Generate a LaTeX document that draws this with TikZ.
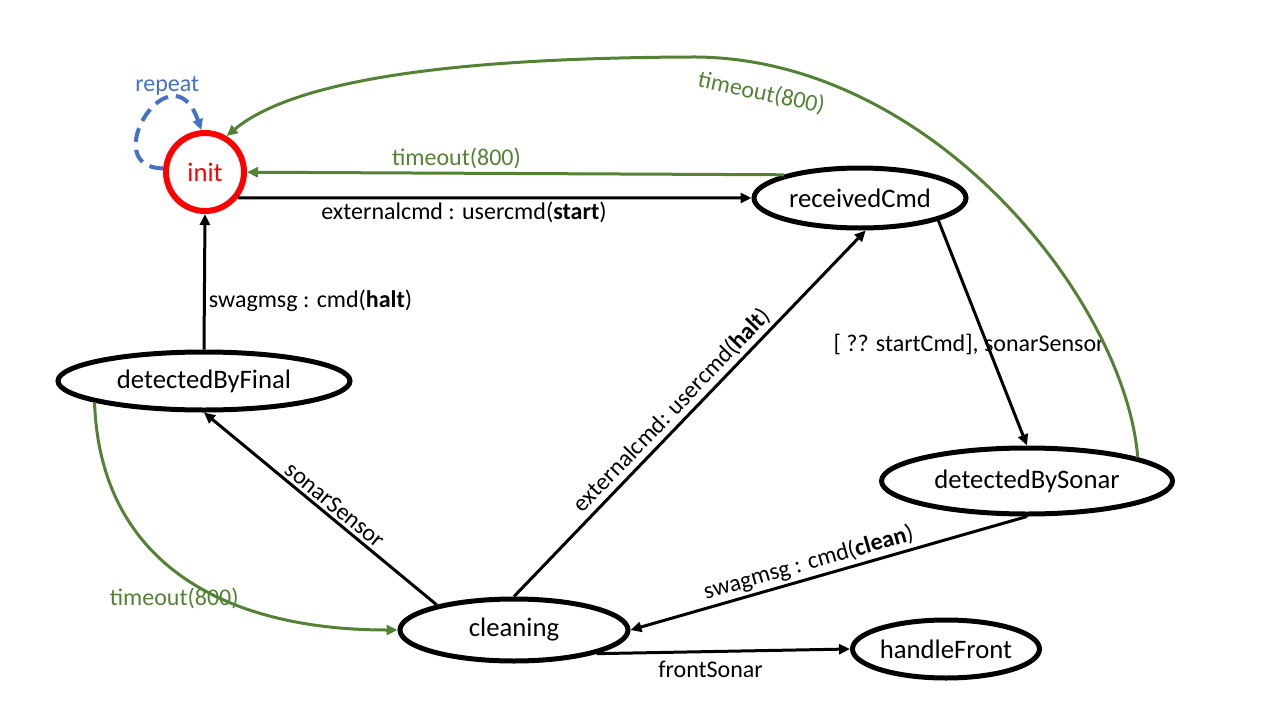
\documentclass[tikz,border=0pt]{standalone}
\usepackage{fontspec}
\setmainfont{Carlito}
\usetikzlibrary{arrows.meta, positioning, shapes.geometric}
\definecolor{tgreen}{HTML}{548235}
\definecolor{tblue}{HTML}{4472C4}

\begin{document}
\begin{tikzpicture}[x=1pt, y=-1pt, >={Triangle[length=11pt, width=10pt]}]
			\tikzstyle{state} = [draw=black, line width=5pt, ellipse, inner sep=0pt, font=\fontsize{26.7}{30}\selectfont]
			\tikzstyle{trans} = [line width=3pt, black]
			\tikzstyle{tmo} = [line width=3pt, tgreen]
			\tikzstyle{lbl} = [font=\fontsize{24}{28}\selectfont, inner sep=3pt]
			
			\useasboundingbox (0,0) rectangle (1280,720);
			
			\node[circle, draw=red, line width=6pt, text=red, minimum size=78pt, inner sep=0pt, font=\fontsize{26.7}{30}\selectfont] at (205,172) (init) {init};
			\node[state, minimum width=212pt, minimum height=60pt] at (860,198) (recv) {receivedCmd};
			\node[state, minimum width=292pt, minimum height=58pt] at (204,381) (dfinal) {detectedByFinal};
			\node[state, minimum width=291pt, minimum height=66pt] at (1027,481) (dsonar) {detectedBySonar};
			\node[state, minimum width=228pt, minimum height=62pt] at (514,630) (clean) {cleaning};
			\node[state, minimum width=185pt, minimum height=58pt] at (946,649) (front) {handleFront};
			
			\path[->, trans]
			(init.-38)		edge	node[lbl, below, pos=0.44] {externalcmd : usercmd(\textbf{start})}	(recv.west)
			(dfinal.north)	edge	node[lbl, right, pos=0.36] {swagmsg : cmd(\textbf{halt})}	(init.south)
			(recv.-16)		edge	node[lbl, pos=0.55, xshift=-18pt] {[ ?? startCmd], sonarSensor}	(dsonar.north)
			(clean.north)	edge	node[lbl, sloped, above, pos=0.48] {externalcmd: usercmd(\textbf{halt})}	(recv.-80)
			(clean.162)		edge	node[lbl, sloped, above, pos=0.47] {sonarSensor}	(dfinal.south)
			(dsonar.south)	edge	node[lbl, sloped, above, pos=0.54] {swagmsg : cmd(\textbf{clean})}	(clean.east)
			(clean.-16)		edge	node[lbl, below=5pt, pos=0.45] {frontSonar}	(front.west);
			
			\path[->, tmo]
			(recv.163)		edge	node[lbl, above, pos=0.61] {timeout(800)}	(init);
			
			% timeouts drawn as curves
			\draw[->, tmo] (dfinal.-169) .. controls (100,560) and (220,630) .. (clean.west)
				node[lbl, pos=0.62, anchor=east, xshift=20pt] {timeout(800)};
			\draw[->, tmo] (dsonar.12) .. controls (1125,300) and (930,55) .. (690,57)
				node[lbl, sloped, below=14pt, pos=0.89] {timeout(800)}
				.. controls (480,58) and (300,75) .. (init.59);
			
			% self loop
			\draw[->, tblue, line width=4pt, dash pattern=on 14pt off 8pt] (init.175) .. controls (95,168) and (172,45) .. (init.95)
				node[lbl, above, pos=0.7] {repeat};
\end{tikzpicture}
\end{document}
